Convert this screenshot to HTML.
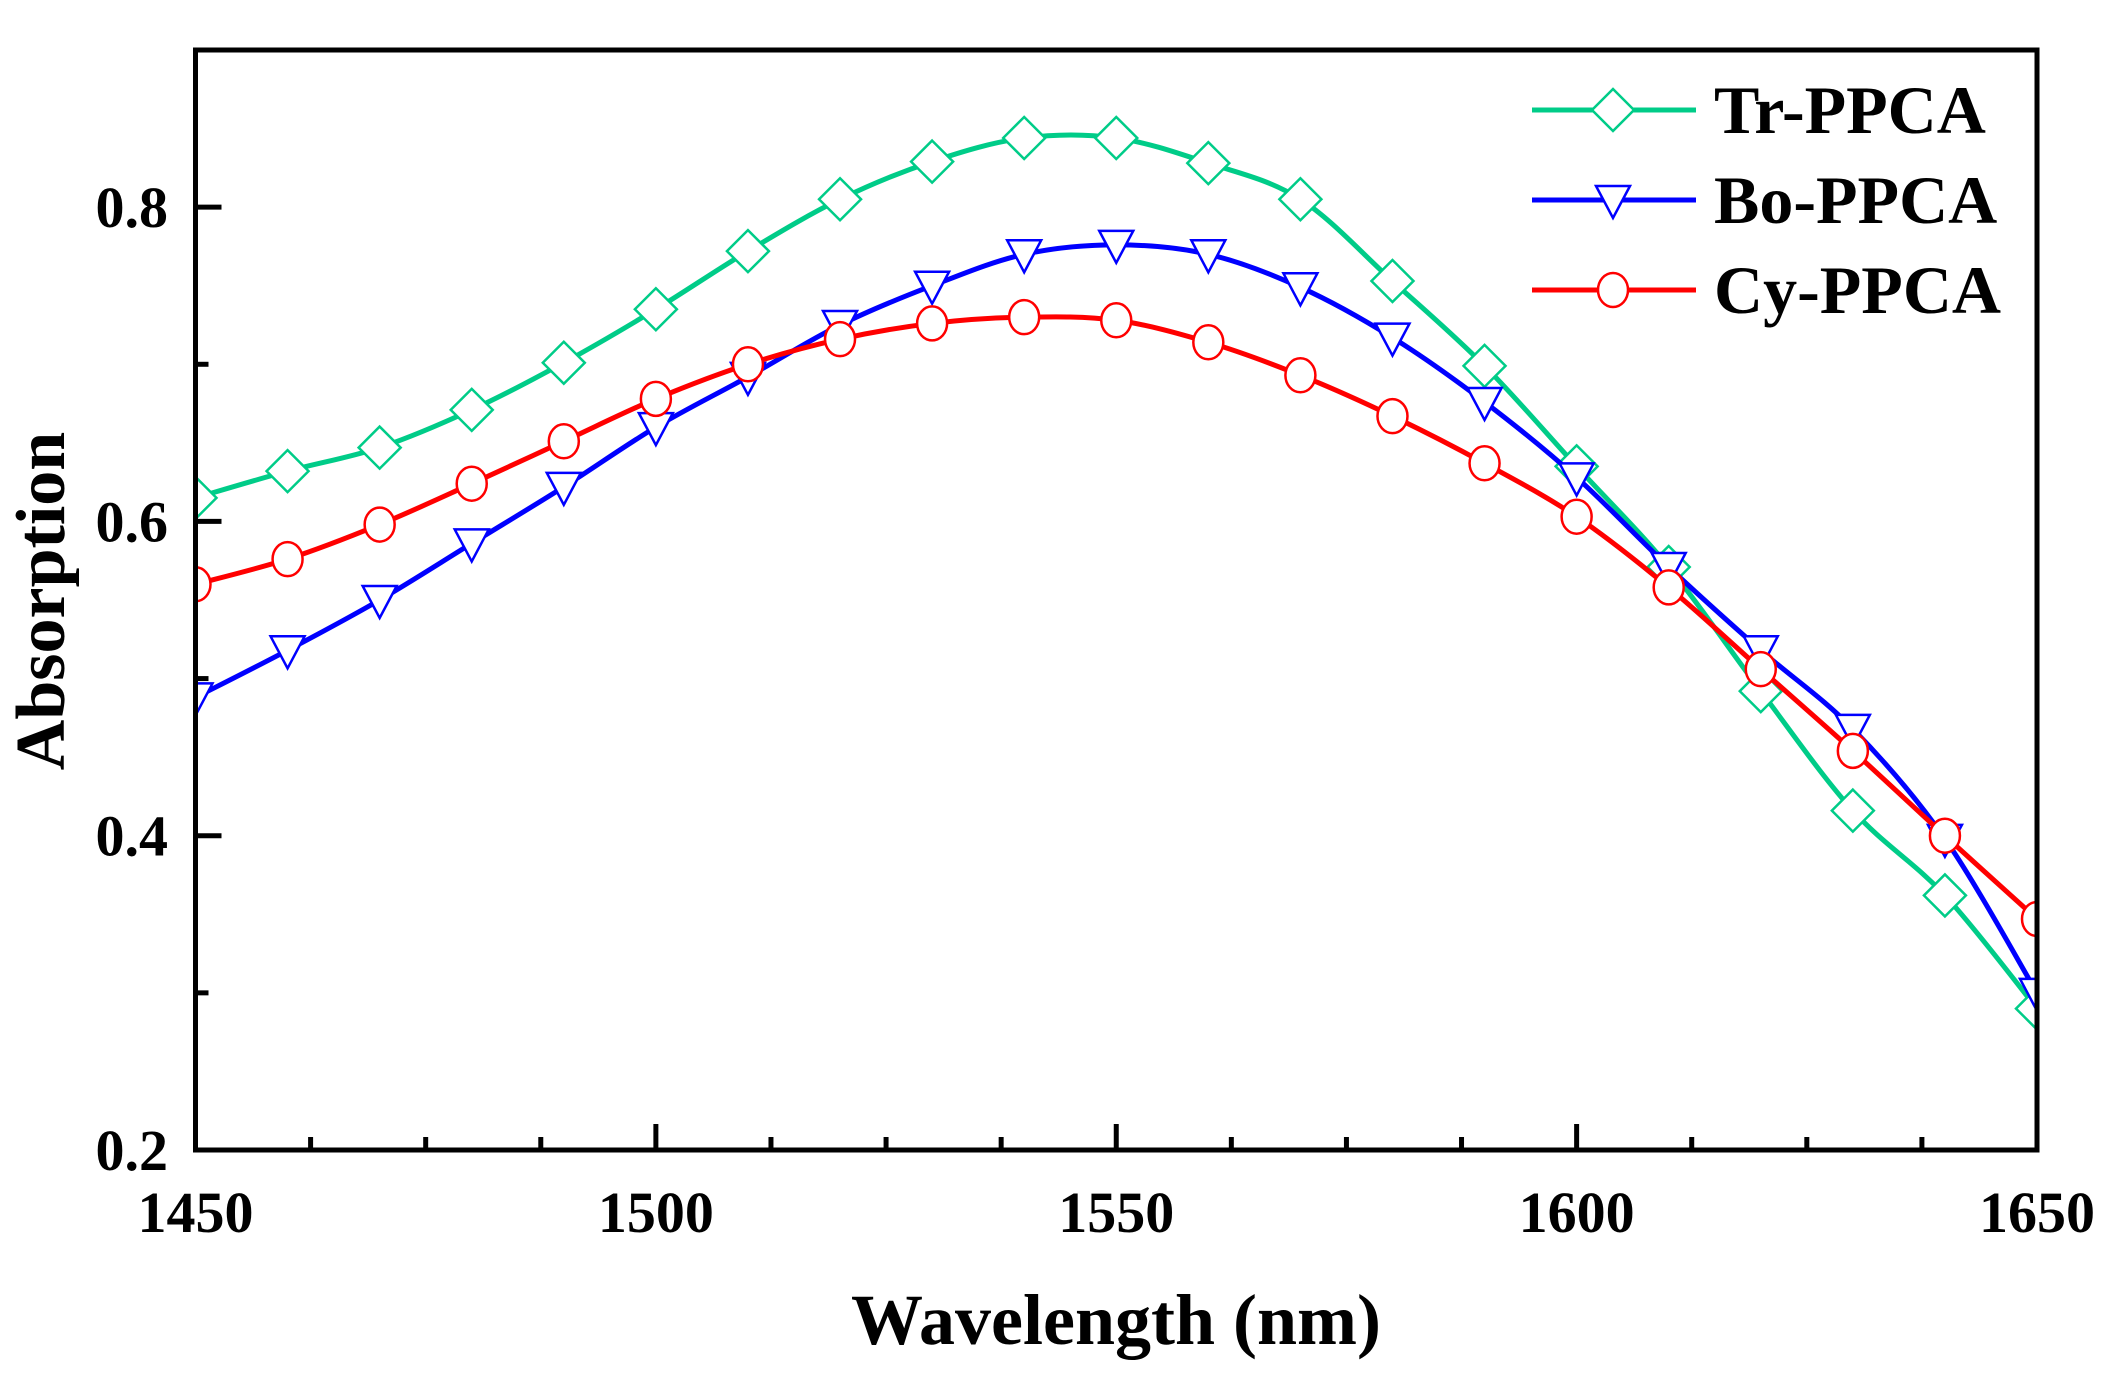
<!DOCTYPE html>
<html><head><meta charset="utf-8"><style>
html,body{margin:0;padding:0;background:#fff;}
svg text{font-family:"Liberation Serif",serif;font-weight:bold;fill:#000;}
</style></head><body>
<svg id="s" width="2107" height="1371" xmlns="http://www.w3.org/2000/svg">
<defs><clipPath id="c"><rect x="195" y="50" width="1842" height="1100"/></clipPath></defs>
<g id="plot" clip-path="url(#c)"></g>
<g id="axes"></g>
</svg>
<script>
const NS="http://www.w3.org/2000/svg";
const X0=195.5,X1=2037,Y0=1150,Y1=50;
const fx=v=>X0+(v-1450)*(X1-X0)/200, fy=v=>Y0-(v-0.2)*(Y0-Y1)/0.7;
const xs=[];for(let i=0;i<=20;i++)xs.push(1450+10*i);
const S=[
{c:"#00cc88",m:"d",y:[0.615,0.632,0.647,0.671,0.701,0.735,0.772,0.805,0.829,0.844,0.844,0.828,0.805,0.753,0.699,0.635,0.571,0.492,0.416,0.362,0.29]},
{c:"#0000ff",m:"t",y:[0.488,0.518,0.550,0.586,0.622,0.660,0.692,0.725,0.750,0.770,0.776,0.770,0.749,0.717,0.676,0.628,0.571,0.518,0.468,0.398,0.300]},
{c:"#ff0000",m:"o",y:[0.56,0.576,0.598,0.624,0.651,0.678,0.700,0.716,0.726,0.730,0.728,0.714,0.693,0.667,0.637,0.603,0.558,0.506,0.454,0.400,0.347]}];
function el(t,a,p){const e=document.createElementNS(NS,t);for(const k in a)e.setAttribute(k,a[k]);p.appendChild(e);return e;}
const plot=document.getElementById("plot"),axes=document.getElementById("axes");
function marker(m,x,y,c,p){
 if(m=="d")el("polygon",{points:`${x},${y-21} ${x+21},${y} ${x},${y+21} ${x-21},${y}`,fill:"#fff",stroke:c,"stroke-width":2.5},p);
 else if(m=="t")el("polygon",{points:`${x-17},${y-14} ${x+17},${y-14} ${x},${y+18}`,fill:"#fff",stroke:c,"stroke-width":2.5},p);
 else el("ellipse",{cx:x,cy:y,rx:15,ry:17,fill:"#fff",stroke:c,"stroke-width":2.5},p);
}
S.forEach(s=>{
 const P=xs.map((v,i)=>[fx(v),fy(s.y[i])]);
 let d=`M${P[0][0]},${P[0][1]}`;
 for(let i=0;i<P.length-1;i++){
  const p0=P[Math.max(0,i-1)],p1=P[i],p2=P[i+1],p3=P[Math.min(P.length-1,i+2)];
  d+=` C${p1[0]+(p2[0]-p0[0])/6},${p1[1]+(p2[1]-p0[1])/6} ${p2[0]-(p3[0]-p1[0])/6},${p2[1]-(p3[1]-p1[1])/6} ${p2[0]},${p2[1]}`;
 }
 el("path",{d:d,fill:"none",stroke:s.c,"stroke-width":5},plot);
 P.forEach(p=>marker(s.m,p[0],p[1],s.c,plot));
});
const names=["Tr-PPCA","Bo-PPCA","Cy-PPCA"],ly=[110,200,290];
S.forEach((s,i)=>{
 el("line",{x1:1532,x2:1696,y1:ly[i],y2:ly[i],stroke:s.c,"stroke-width":5},axes);
 marker(s.m,1613,ly[i],s.c,axes);
 const t=el("text",{x:1714,y:ly[i]+23,"font-size":68},axes);t.textContent=names[i];
});
el("rect",{x:X0,y:Y1,width:X1-X0,height:Y0-Y1,fill:"none",stroke:"#000","stroke-width":5},axes);
for(let v=1450;v<=1650;v+=12.5){const x=fx(v),maj=(v%50==0);
 el("line",{x1:x,x2:x,y1:Y0,y2:Y0-(maj?26:13),stroke:"#000","stroke-width":5},axes);
 if(maj){const t=el("text",{x:x,y:1232,"font-size":58,"text-anchor":"middle"},axes);t.textContent=v;}
}
for(let k=0;k<=7;k++){const v=0.2+k*0.1,y=fy(v),maj=(k%2==0);
 el("line",{x1:X0,x2:X0+(maj?26:13),y1:y,y2:y,stroke:"#000","stroke-width":5},axes);
 if(maj&&k<7){const t=el("text",{x:168,y:y+20,"font-size":58,"text-anchor":"end"},axes);t.textContent=v.toFixed(1);}
}
let t=el("text",{x:1116,y:1344,"font-size":72,"text-anchor":"middle"},axes);t.textContent="Wavelength (nm)";
t=el("text",{x:0,y:0,"font-size":70,"text-anchor":"middle",transform:"translate(64,601) rotate(-90)"},axes);t.textContent="Absorption";
</script>
</body></html>
